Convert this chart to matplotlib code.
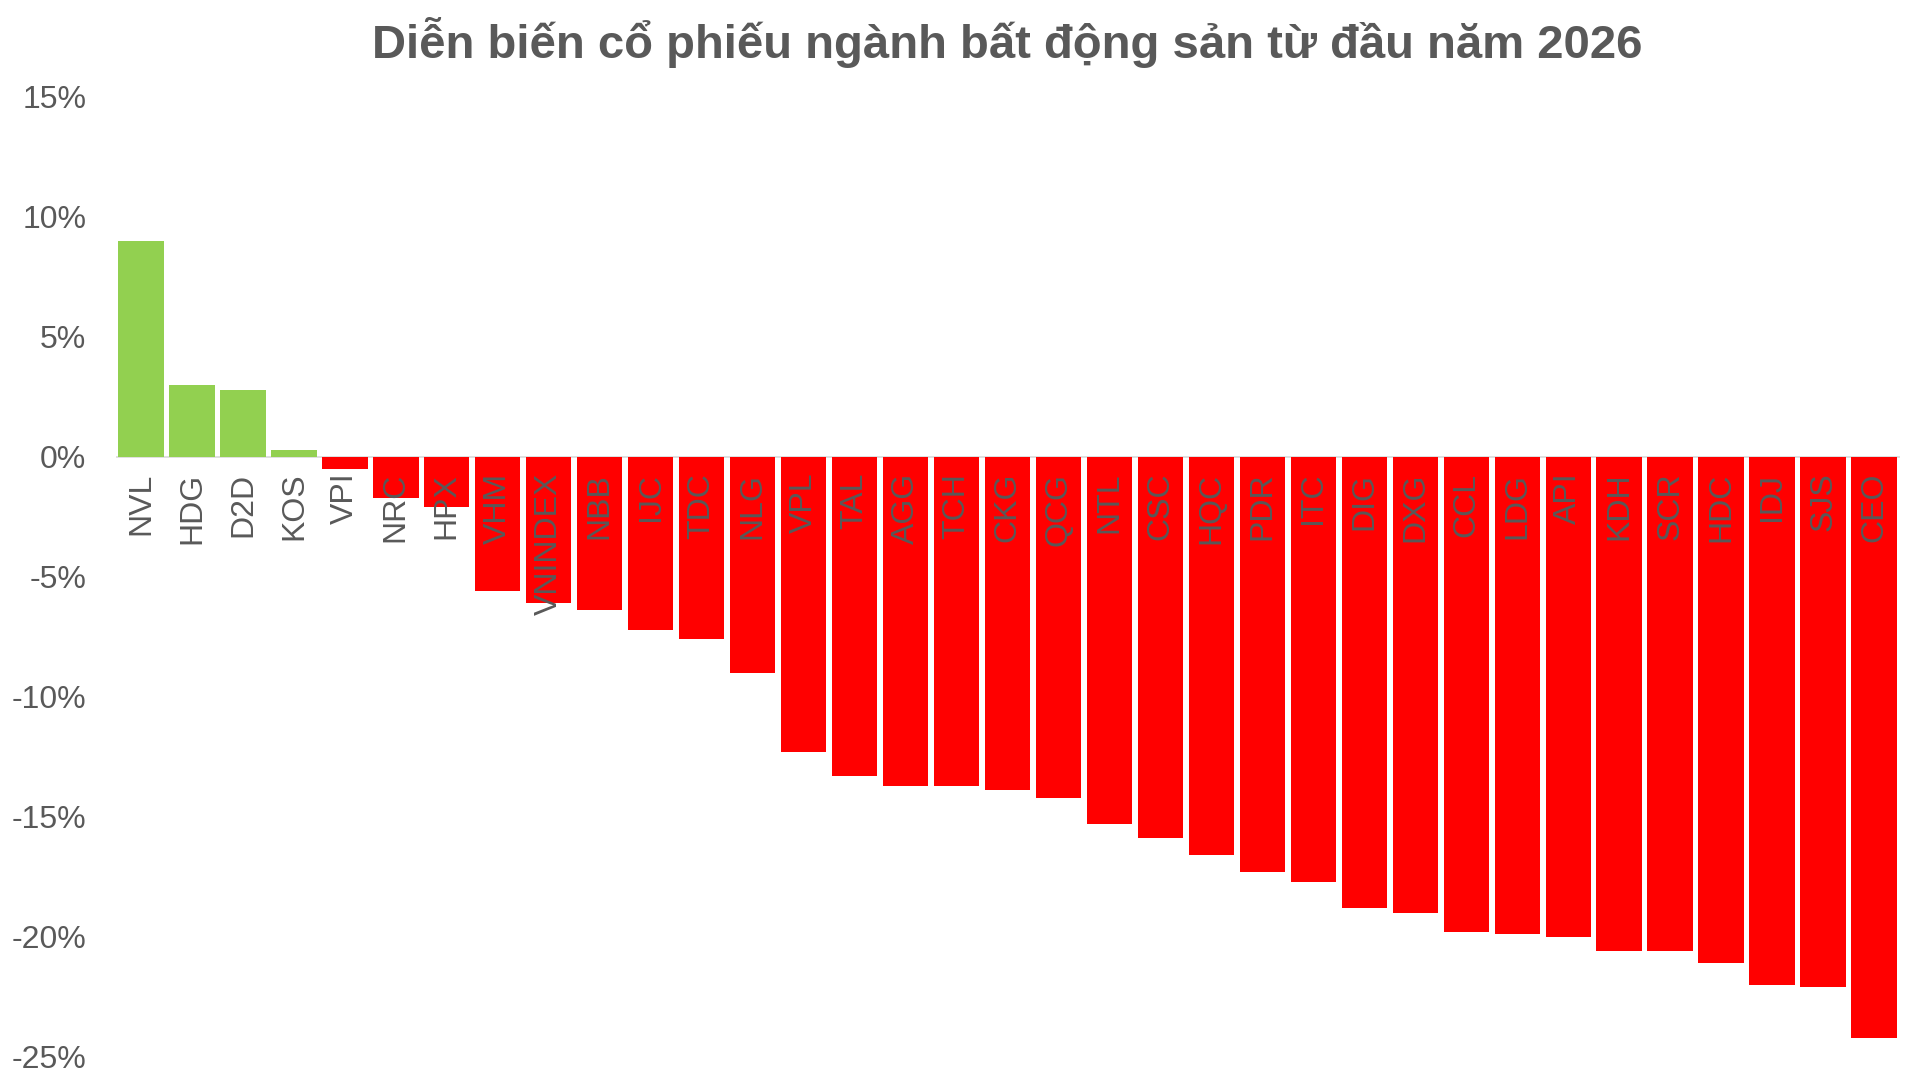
import matplotlib.pyplot as plt
from matplotlib.ticker import FuncFormatter

# Data (% change since the start of 2026)
tickers = ['NVL', 'HDG', 'D2D', 'KOS', 'VPI', 'NRC', 'HPX', 'VHM', 'VNINDEX',
           'NBB', 'IJC', 'TDC', 'NLG', 'VPL', 'TAL', 'AGG', 'TCH', 'CKG', 'QCG',
           'NTL', 'CSC', 'HQC', 'PDR', 'ITC', 'DIG', 'DXG', 'CCL', 'LDG', 'API',
           'KDH', 'SCR', 'HDC', 'IDJ', 'SJS', 'CEO']
changes = [9.0, 3.0, 2.8, 0.3, -0.5, -1.7, -2.1, -5.6, -6.1,
           -6.4, -7.2, -7.6, -9.0, -12.3, -13.3, -13.7, -13.7, -13.9, -14.2,
           -15.3, -15.9, -16.6, -17.3, -17.7, -18.8, -19.0, -19.8, -19.9, -20.0,
           -20.6, -20.6, -21.1, -22.0, -22.1, -24.2]
y_ticks = [15, 10, 5, 0, -5, -10, -15, -20, -25]
title = 'Diễn biến cổ phiếu ngành bất động sản từ đầu năm 2026'

GREEN = '#92D050'
RED = '#FF0000'
TEXT = '#595959'

plt.rcParams['font.family'] = ['Liberation Sans', 'DejaVu Sans']

fig = plt.figure(figsize=(19.2, 10.8), dpi=100)
ax = fig.add_axes([115.5 / 1920, 23.3 / 1080, 1784 / 1920, 960 / 1080])

colors = [GREEN if v >= 0 else RED for v in changes]
x = range(len(tickers))
ax.bar(x, changes, width=0.89, color=colors, zorder=2)
ax.axhline(0, color='#d9d9d9', lw=1.2, zorder=1)

# category labels sit just under the zero line, rotated
for i, name in enumerate(tickers):
    ax.annotate(name, (i, 0), xytext=(0, -11.5), textcoords='offset points',
                rotation=90, ha='center', va='top', fontsize=23,
                color=TEXT, zorder=3)

ax.set_xlim(-0.5, len(tickers) - 0.5)
ax.set_ylim(-25, 15)
ax.set_yticks(y_ticks)
ax.yaxis.set_major_formatter(FuncFormatter(lambda v, p: f'{v:.0f}%'))
ax.set_xticks([])
ax.tick_params(axis='y', length=0, pad=21, labelsize=23, labelcolor=TEXT)
for s in ax.spines.values():
    s.set_visible(False)

fig.text(1007 / 1920, 1 - 43 / 1080, title, ha='center',
         va='center', fontsize=34, fontweight='bold', color=TEXT)

fig.savefig('out.png', dpi=100, facecolor='white')
